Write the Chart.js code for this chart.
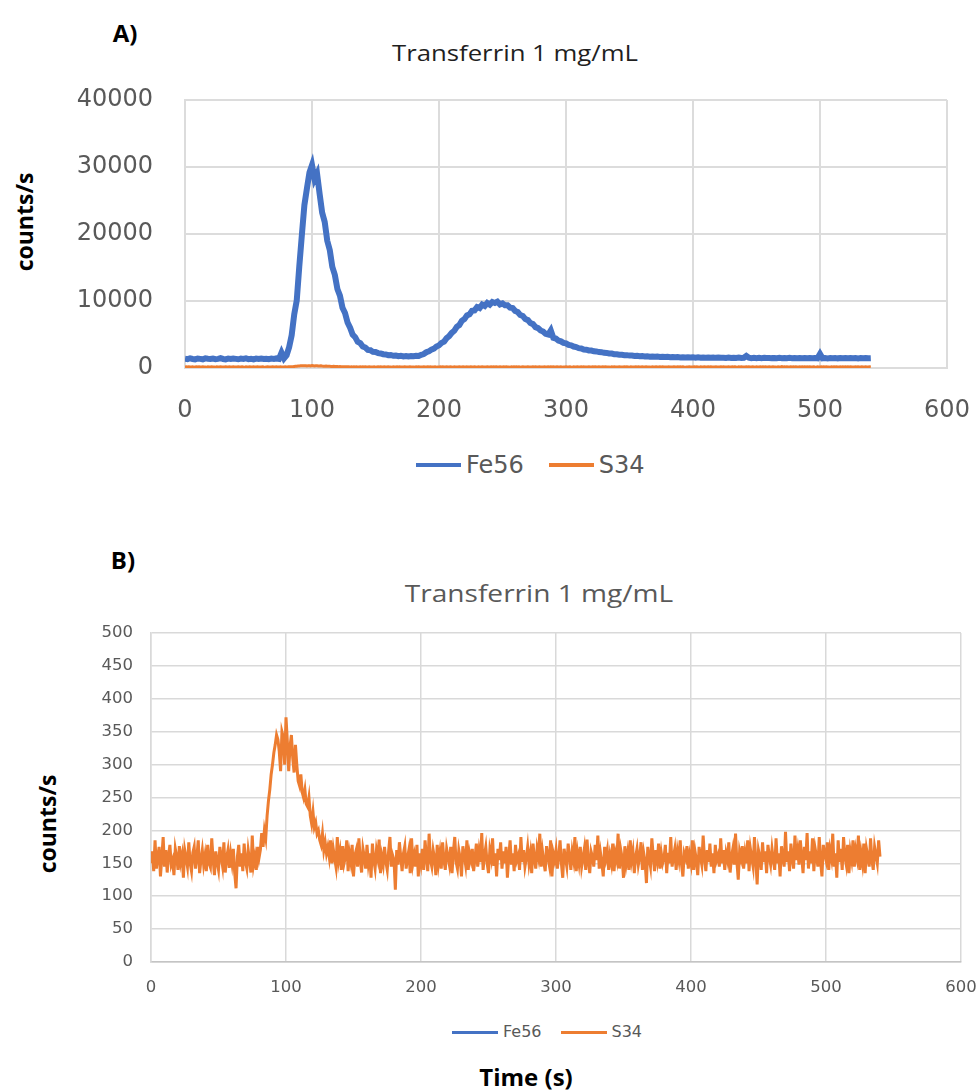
<!DOCTYPE html>
<html>
<head>
<meta charset="utf-8">
<title>Transferrin 1 mg/mL</title>
<script src="https://cdn.jsdelivr.net/npm/chart.js@4.4.1/dist/chart.umd.min.js"></script>
<style>
html,body{margin:0;padding:0;background:#fff;}
body{width:979px;height:1091px;position:relative;overflow:hidden;font-family:"Open Sans",sans-serif;}
.wrap{position:absolute;left:0;width:979px;}
.txt{position:absolute;white-space:nowrap;line-height:1;transform:translate(-50%,-50%);}
.wide{transform:translate(-50%,-50%) scaleX(1.17);}
.bold{font-weight:bold;color:#000;}
.rot{transform:translate(-50%,-50%) rotate(-90deg);}
.legend{position:absolute;display:flex;align-items:center;white-space:nowrap;color:#595959;
        font-family:"DejaVu Sans",sans-serif;line-height:1;transform:translateY(-50%);}
.legend span.sw{display:inline-block;}
</style>
</head>
<body>

<div class="txt bold" style="left:125px;top:33px;font-size:24px;">A)</div>
<div class="txt wide" style="left:515px;top:52px;font-size:22px;color:#1f1f1f;">Transferrin 1 mg/mL</div>
<div class="txt bold rot" style="left:24px;top:222px;font-size:23px;">counts/s</div>
<div class="wrap" style="top:0;height:430px;"><canvas id="chartA"></canvas></div>
<div class="legend" id="legendA" style="left:416px;top:465px;font-size:24px;"></div>

<div class="txt bold" style="left:123px;top:560px;font-size:24px;">B)</div>
<div class="txt wide" style="left:539px;top:593px;font-size:24px;color:#595959;">Transferrin 1 mg/mL</div>
<div class="txt bold rot" style="left:47px;top:824px;font-size:23px;">counts/s</div>
<div class="wrap" style="top:560px;height:440px;"><canvas id="chartB"></canvas></div>
<div class="legend" id="legendB" style="left:452px;top:1032px;font-size:16px;"></div>
<div class="txt bold" style="left:526px;top:1077px;font-size:24px;">Time (s)</div>

<script>
// Fe56 read every 2 s, S34 every 1 s, both 0 .. 540 s
var STEP_FE = 2;
var STEP_S = 1;

var seriesNames = ['Fe56', 'S34'];
var seriesColors = ['#4472C4', '#ED7D31'];

var fe56 = [
  1380,1320,1450,1350,1290,1420,1360,1300,1440,1370,
  1340,1410,1310,1360,1460,1350,1290,1400,1340,1420,
  1360,1300,1400,1350,1430,1320,1380,1290,1410,1350,
  1420,1340,1380,1310,1400,1350,1430,1370,2300,1450,
  1900,3100,4900,8000,10100,15200,19800,24300,26800,29200,
  30300,28200,29000,26000,23200,21800,19000,17600,15100,13900,
  11800,10800,9000,8200,6800,6000,5000,4600,3900,3700,
  3200,3050,2700,2650,2400,2380,2220,2180,2060,2030,
  1920,1950,1820,1860,1760,1830,1740,1800,1720,1790,
  1750,1830,1800,1980,2080,2350,2480,2750,2880,3200,
  3380,3750,3950,4450,4750,5250,5550,6150,6400,7050,
  7300,7850,8000,8550,8600,9100,8950,9450,9250,9700,
  9450,9850,9700,9900,9500,9650,9350,9350,9000,8950,
  8500,8350,7900,7750,7300,7150,6700,6550,6100,5950,
  5600,5450,5100,5000,5600,4500,4400,4100,3980,3750,
  3680,3450,3380,3200,3120,2960,2920,2770,2740,2620,
  2600,2490,2470,2380,2360,2260,2250,2160,2150,2060,
  2060,1980,1980,1910,1920,1850,1860,1800,1820,1760,
  1780,1720,1750,1690,1720,1670,1700,1650,1680,1630,
  1660,1610,1640,1590,1625,1580,1610,1565,1600,1555,
  1590,1540,1600,1535,1570,1540,1565,1520,1570,1515,
  1550,1525,1545,1500,1555,1495,1540,1490,1550,1485,
  1530,1800,1540,1475,1520,1470,1525,1475,1510,1480,
  1505,1475,1500,1470,1520,1460,1505,1455,1510,1460,
  1495,1465,1490,1460,1495,1450,1500,1445,1495,1450,
  2100,1445,1490,1440,1495,1445,1490,1440,1485,1450,
  1480,1445,1475,1450,1480,1435,1485,1440,1475,1445,
  1460
];

var s34 = [
  150,168,138,185,142,160,175,130,158,190,145,170,136,162,178,148,155,132,172,160,
  140,176,152,163,128,170,158,145,182,150,138,166,175,142,160,185,135,155,170,148,
  162,138,178,150,144,188,156,132,168,152,140,175,160,146,182,136,158,170,143,165,
  150,172,135,112,160,178,145,165,138,180,152,142,170,155,136,192,148,160,140,175,
  158,170,196,175,200,188,222,245,262,285,300,318,330,345,338,320,290,350,342,300,
  372,335,290,328,345,310,288,330,300,275,268,285,258,250,262,240,236,250,222,210,
  228,205,212,195,200,185,178,195,170,182,165,175,160,185,150,172,158,145,190,155,
  168,140,176,150,160,185,138,165,152,178,130,162,170,145,188,155,136,172,160,142,
  178,150,165,128,180,155,142,170,158,186,135,160,148,175,152,140,168,190,145,162,
  155,110,170,148,182,160,138,165,176,142,158,170,135,188,150,162,145,178,130,165,
  150,172,140,185,160,138,195,155,145,170,158,132,178,150,166,142,182,155,140,172,
  160,148,175,135,168,190,152,142,170,158,130,176,162,148,185,140,165,155,172,138,
  158,180,145,168,152,196,140,162,175,150,135,170,158,188,146,165,130,172,155,182,
  142,168,150,175,128,160,185,148,165,138,178,155,162,140,190,152,170,145,158,175,
  150,165,135,180,158,142,172,160,195,145,168,152,138,176,160,148,185,130,165,155,
  170,142,160,185,150,128,172,158,145,180,162,140,168,155,190,138,165,150,175,145,
  158,172,140,186,152,135,168,160,145,178,155,192,142,165,150,130,175,158,170,140,
  162,150,180,138,165,155,195,142,170,158,128,176,150,165,140,185,155,168,135,160,
  172,148,160,182,140,165,152,120,175,158,145,188,162,138,170,155,180,142,165,150,
  158,178,135,166,150,190,145,160,172,140,168,155,185,148,130,165,158,176,142,162,
  150,185,140,168,155,132,175,160,148,192,158,138,170,152,180,145,165,135,178,155,
  162,145,188,150,170,140,165,155,182,136,160,172,148,195,152,125,168,158,176,142,
  165,150,185,138,172,158,145,190,155,118,170,160,140,182,152,168,135,178,160,148,
  172,155,140,188,150,165,130,176,160,145,198,152,168,138,180,158,142,192,155,170,
  148,185,160,135,175,155,196,142,168,150,188,138,172,160,145,190,152,130,178,165,
  155,182,140,170,158,195,145,165,128,185,152,172,140,190,160,148,178,135,168,155,
  185,145,170,158,192,140,165,150,180,135,172,160,145,188,155,140,175,162,150,185,
  160
];

var xTicks = [0, 100, 200, 300, 400, 500, 600];
var yTicksA = [0, 10000, 20000, 30000, 40000];
var yTicksB = [0, 50, 100, 150, 200, 250, 300, 350, 400, 450, 500];

function points(values, step){
  return values.map(function(v, i){ return {x: i * step, y: v}; });
}

function fixedTicks(list){
  return function(scale){ scale.ticks = list.map(function(v){ return {value: v}; }); };
}

function buildChart(id, o){
  var seriesData = [points(fe56, STEP_FE), points(s34, STEP_S)];
  return new Chart(document.getElementById(id), {
    type: 'line',
    data: {
      datasets: seriesNames.map(function(name, i){
        return {
          label: name,
          data: seriesData[i],
          borderColor: seriesColors[i],
          backgroundColor: seriesColors[i],
          borderWidth: o.lineWidths[i],
          pointRadius: 0,
          tension: 0,
          fill: false
        };
      })
    },
    options: {
      responsive: true,
      maintainAspectRatio: false,
      animation: false,
      events: [],
      layout: {padding: o.padding},
      plugins: {legend: {display: false}, title: {display: false}, tooltip: {enabled: false}},
      scales: {
        x: {
          type: 'linear', min: 0, max: 600,
          afterBuildTicks: fixedTicks(xTicks),
          afterFit: function(s){ s.height = o.xHeight; s.paddingLeft = 0; s.paddingRight = 0; },
          grid: {color: o.grid, lineWidth: o.gridWidth, drawTicks: false},
          border: {color: o.axis, width: o.gridWidth},
          ticks: {color: '#595959', padding: o.xPad, maxRotation: 0,
                  font: {family: 'DejaVu Sans', size: o.tickSize},
                  callback: function(v){ return String(v); }}
        },
        y: {
          type: 'linear', min: 0, max: o.yMax,
          afterBuildTicks: fixedTicks(o.yTicks),
          afterFit: function(s){ s.width = o.yWidth; s.paddingTop = 0; s.paddingBottom = 0; },
          grid: {color: o.grid, lineWidth: o.gridWidth, drawTicks: false},
          border: {color: o.grid, width: o.gridWidth},
          ticks: {color: '#595959', padding: o.yPad,
                  font: {family: 'DejaVu Sans', size: o.tickSize},
                  callback: function(v){ return String(v); }}
        }
      }
    }
  });
}

function buildLegend(id, o){
  var box = document.getElementById(id);
  seriesNames.forEach(function(name, i){
    var sw = document.createElement('span');
    sw.className = 'sw';
    sw.style.width = o.swatch + 'px';
    sw.style.height = o.thick + 'px';
    sw.style.background = seriesColors[i];
    sw.style.marginRight = o.gap + 'px';
    sw.style.marginLeft = i ? o.itemGap + 'px' : '0';
    var t = document.createElement('span');
    t.textContent = name;
    box.appendChild(sw);
    box.appendChild(t);
  });
}

buildChart('chartA', {
  padding: {top: 100, left: 0, right: 32, bottom: 0},
  yWidth: 185, xHeight: 62, yMax: 40000, yTicks: yTicksA,
  lineWidths: [6, 3], tickSize: 24, xPad: 28, yPad: 32,
  grid: '#dcdcdc', axis: '#dcdcdc', gridWidth: 2
});

buildChart('chartB', {
  padding: {top: 73, left: 0, right: 18, bottom: 0},
  yWidth: 151, xHeight: 38, yMax: 500, yTicks: yTicksB,
  lineWidths: [3, 3], tickSize: 16.5, xPad: 16, yPad: 18,
  grid: '#d9d9d9', axis: '#c4c4c4', gridWidth: 1.5
});

buildLegend('legendA', {swatch: 45, thick: 4, gap: 5, itemGap: 25});
buildLegend('legendB', {swatch: 46, thick: 3, gap: 5, itemGap: 19});
</script>
</body>
</html>
